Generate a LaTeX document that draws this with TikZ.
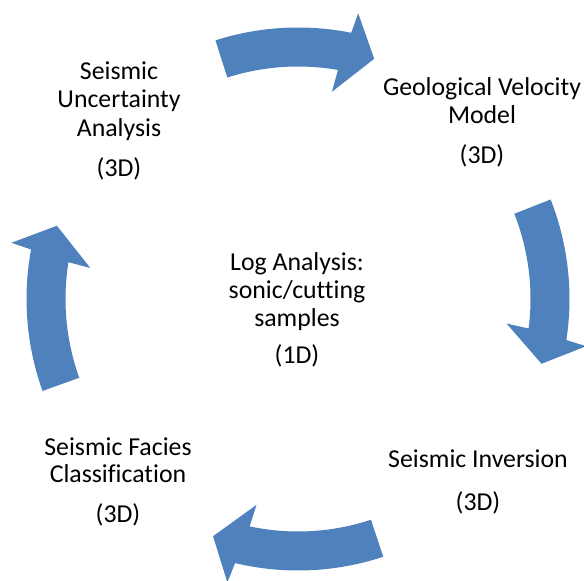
\documentclass[tikz,border=0pt]{standalone}
\usepackage{fontspec}
\setmainfont{Carlito}[Ligatures=CommonOff]
\definecolor{arrowblue}{HTML}{4F81BD}
% curved block arrow on the ring: #1 tail angle, #2 head base angle, #3 tip angle
\newcommand\cyclearrow[3]{%
  \fill[arrowblue] (#1:271.5) arc[start angle=#1, end angle=#2-0.7, radius=271.5]
    -- (#2-1.3:292) -- (#3:252) -- (#2+1.3:210) -- (#2+0.7:232.5)
    arc[start angle=#2+0.7, end angle=#1, radius=232.5] -- cycle;}
\tikzset{
  lbl/.style={anchor=base, inner sep=0pt, font=\fontsize{25.8}{28}\selectfont, text=black}
}
\begin{document}
\begin{tikzpicture}[x=1pt,y=1pt]
\useasboundingbox (0,0) rectangle (584,581);
\begin{scope}[shift={(298,282)}]
  \cyclearrow{107.7}{79.4}{72.4}
  \cyclearrow{21.5}{-8}{-14.9}
  \cyclearrow{-71.7}{-102.7}{-109.7}
  \cyclearrow{199.8}{170.2}{163.1}
\end{scope}
% Seismic Uncertainty Analysis
\node[lbl] (u1) at (119,501) {Seismic};
\node[lbl] (u2) at (119,473) {Uncertainty};
\node[lbl] (u3) at (119,444.5) {Analysis};
\node[lbl] (u4) at (119,404.5) {(3D)};
% Geological Velocity Model
\node[lbl] (g1) at (482,485) {Geological Velocity};
\node[lbl] (g2) at (482,457) {Model};
\node[lbl] (g3) at (482,417) {(3D)};
% Log Analysis
\node[lbl] (l1) at (297,310.3) {Log Analysis:};
\node[lbl] (l2) at (297,282.5) {sonic/cutting};
\node[lbl] (l3) at (297,254.5) {samples};
\node[lbl] (l4) at (297,217) {(1D)};
% Seismic Facies Classification
\node[lbl] (f1) at (118,125.3) {Seismic Facies};
\node[lbl] (f2) at (118,98) {Classification};
\node[lbl] (f3) at (118,58.6) {(3D)};
% Seismic Inversion
\node[lbl] (i1) at (478,113.6) {Seismic Inversion};
\node[lbl] (i2) at (478,70.6) {(3D)};
\end{tikzpicture}
\end{document}
